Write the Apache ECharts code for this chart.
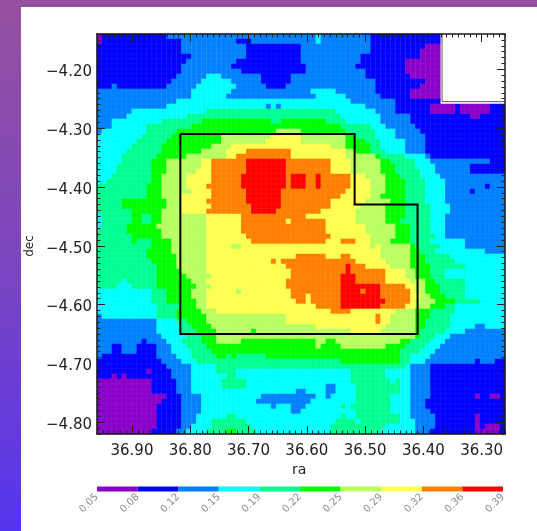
<!DOCTYPE html>
<html><head><meta charset="utf-8">
<style>
html,body{margin:0;padding:0;width:537px;height:531px;overflow:hidden;background:linear-gradient(to bottom,#96509f 0%,#7a45bf 50%,#5535ee 100%);}
#sheet{position:absolute;left:21px;top:7px;width:516px;height:524px;background:#fff;}
#chart{position:absolute;left:0;top:0;width:537px;height:531px;filter:blur(0.5px);}
</style>
<script src="https://cdn.jsdelivr.net/npm/echarts@6/dist/echarts.min.js"></script>
</head><body><div id="sheet"></div><div id="chart"></div>
<script>
const bandColors=['#8a00c8','#0000ff','#0080ff','#00ffff','#00ff90','#00ff00','#b8ff60','#ffff50','#ff8000','#ff0000'];
const barTickLabels=['0.05','0.08','0.12','0.15','0.19','0.22','0.25','0.29','0.32','0.36','0.39'];
const raTicks=[36.9,36.8,36.7,36.6,36.5,36.4,36.3];
const decTicks=[-4.2,-4.3,-4.4,-4.5,-4.6,-4.7,-4.8];
const boxRa=[36.817,36.518,36.518,36.41,36.41,36.817,36.817];
const boxDec=[-4.31,-4.31,-4.43,-4.43,-4.65,-4.65,-4.31];
const notchRa=[36.368,36.368,36.26];
const notchDec=[-4.14,-4.255,-4.255];
const COLS=82;
// each row: band letter + column at which that band ends ('.' = no data)
const rowRuns=[
"a1 b14 c44 d45 c55 b69 .82",
"a1 b17 c28 b31 c44 d45 c55 b69 .82",
"b17 c30 b41 c55 b66 a69 .82",
"b17 c30 b41 c55 b65 a69 .82",
"b19 c30 b41 c53 b65 a69 .82",
"b18 c28 b41 c53 b62 a69 .82",
"b17 c27 b42 c52 b62 a69 .82",
"b17 c29 b42 c54 b62 a69 .82",
"b16 c22 d25 c33 b39 c54 b63 a69 .82",
"b15 c21 d27 c33 b39 c56 b66 a69 .82",
"b3 c4 b14 c20 d28 c34 b38 c56 b65 a69 .82",
"c19 d27 c43 d48 c56 b63 a69 .82",
"c19 d26 c44 d50 c57 b63 a69 .82",
"c16 d51 c60 b69 .82",
"c14 d34 c35 d36 c37 d54 c60 b67 a72 b73 a79 b82",
"c7 d22 e48 d56 c60 b67 a72 b73 a79 b82",
"c6 d18 e49 d57 c63 b75 a77 b82",
"c3 d13 e21 f35 e37 f46 e50 d57 c63 b82",
"c3 d10 e19 f49 e55 d58 c64 b82",
"c1 d10 e16 f36 g41 f50 e56 d60 c65 b82",
"d9 e15 f25 g35 h41 g50 f52 e56 d60 c66 b82",
"d8 e14 f25 g34 h41 g50 f54 e57 d62 c66 b82",
"d7 e13 f23 g27 h47 g50 f55 e57 d62 c66 b82",
"d6 e13 f21 g26 h30 i39 h50 g52 f55 e58 d62 c66 b82",
"d5 e12 f18 g26 h28 i39 h50 g56 f57 e62 d66 c67 b82",
"d5 e11 f14 g21 h23 i30 j38 i47 h51 g57 f59 e64 d67 c79 b82",
"d4 e11 f14 g21 h23 i30 j38 i47 h51 g57 f60 e64 d68 c75 b82",
"d4 e11 f14 g20 h23 i30 j38 i47 h51 g57 f60 e65 d68 c75 b82",
"d3 e11 f13 g18 h23 i29 j38 i39 j42 i44 j45 i51 h54 g58 f61 e65 d69 c82",
"d2 e11 f13 g18 h23 i29 j38 i39 j42 i44 j45 i51 h55 g58 f62 e66 d70 c82",
"e10 f13 g18 h22 i29 j38 i39 j42 i44 j45 i51 h55 g58 f62 e66 d70 c78 b79 c82",
"e10 f13 g19 h23 i30 j37 i50 h55 g58 f62 e66 d70 c75 b76 c82",
"e10 f13 g17 h23 i30 j37 i49 h55 g57 f62 e66 d70 c82",
"e5 f14 g17 h22 i30 j37 i47 h54 g59 f62 e66 d70 c82",
"e5 f14 g17 h23 i31 j37 i47 h53 g58 f62 e67 d71 c82",
"e7 f13 g17 h22 i31 j36 i45 h52 g58 f62 e67 d71 c82",
"d1 e7 f9 e11 f13 g22 h29 i42 h52 g58 f62 e67 d70 c82",
"d1 e7 f9 e11 f13 g22 h29 i38 h39 i46 h52 g58 f61 e67 d70 c82",
"d1 e6 f12 g22 h29 i46 h54 g60 f63 e67 d70 c82",
"e6 f13 g22 h29 i46 h54 g60 f63 e67 d70 c82",
"e7 f13 g22 h30 i47 h55 g60 f63 e68 d70 c82",
"e7 f8 e11 f15 g22 h31 i46 h49 i52 h55 g59 f63 e67 d74 c82",
"e11 f15 g22 h27 g29 h55 g56 h57 g63 f64 e69 d74 c77 c82",
"e10 f15 g22 h57 g63 f65 e68 d78 c82",
"e10 f16 g22 h40 i46 h49 i51 h57 g63 f66 e71 d82",
"e11 f16 g22 h35 i36 h37 i52 h58 g63 f66 e72 d82",
"e12 f16 g22 h38 i50 j51 i54 h59 g63 f67 e74 d82",
"e12 f17 g22 h39 i50 j51 i58 h62 g64 f67 e70 d82",
"e12 f18 g23 h39 i49 j52 i58 h62 g64 f67 e70 d82",
"e5 d6 e12 f19 g22 h38 i49 j52 i58 h63 g66 f68 e74 d82",
"e4 d7 e12 f20 g23 h38 i49 j57 i62 h64 g66 f69 e74 d82",
"d11 e14 f19 g22 h28 g29 h39 i49 j53 i54 j57 i63 h64 g66 f69 e74 d82",
"d11 e14 f19 g22 h39 i42 h43 i49 j57 i63 h65 g67 f70 e74 d82",
"d11 e14 f20 g22 h40 i42 h43 i49 j58 i63 h64 g68 f72 e77 d82",
"d12 e17 f20 g22 h44 i49 j57 i62 h64 g67 f70 e72 d82",
"d12 e16 f21 g24 h47 i51 h60 g64 f67 e72 d82",
"c1 d12 e16 f22 g38 h56 i57 h59 g64 f67 e71 d82",
"c12 d16 e18 f22 g38 h56 i57 h59 g64 f66 e71 d82",
"c12 d17 e19 f23 g44 h58 g64 f66 e71 d76 c78 d82",
"c12 d17 e20 f24 g31 f32 g51 h57 g64 f65 e70 d74 c82",
"c13 d18 e21 f24 g64 f65 e68 d71 c82",
"c9 b10 c14 d17 e21 f24 g29 f44 g46 f48 g61 f63 e67 d70 c82",
"c3 b5 c8 b12 c15 d18 e22 f44 g45 f49 g58 f62 e66 d69 c82",
"c3 b5 c8 b12 c15 d19 e23 f61 e65 d68 c82",
"c1 b12 c16 d19 e24 f26 e27 f28 e34 f61 e63 d67 c82",
"b13 c17 d20 e49 f61 e63 d66 c76 b77 c80 b82",
"b14 c19 d24 e47 e62 d63 c67 b82",
"b10 a11 b15 c19 d24 e28 d51 e58 d63 c67 b82",
"b3 a4 b5 a6 b15 c19 d26 e28 d51 e58 d63 c67 b82",
"a11 b16 c19 d25 e30 d51 e59 d60 e61 d63 c67 b82",
"a11 b16 c19 d25 e30 d46 c48 d52 e61 d63 c67 b82",
"a11 b16 c19 d40 c42 d46 c48 d52 e61 d63 c67 b82",
"a14 b17 c21 d33 c44 d46 c47 d52 e59 d63 c67 b76 a77 b79 a81 b82",
"a13 b17 c21 d32 c43 d52 e59 d63 c66 b82",
"a12 b17 c21 d35 c36 d39 c42 d49 e50 d51 e59 d63 c66 b82",
"a12 b17 c21 d39 c41 d52 e59 d63 c67 b82",
"a12 b17 c20 d26 e28 d49 e50 d52 e61 d63 c68 b76 a77 b82",
"a12 b17 c20 d23 e30 d48 e52 d53 e61 d64 c68 b76 a77 b82",
"a12 b17 c19 d23 e31 d47 e58 d64 c68 b76 a77 b78 a81 b82",
"a11 b16 c18 d22 e26 f28 e32 d47 e57 d64 c67 b76 a81 b82"
];
const edges=barTickLabels.map(Number);
const cells=[];
rowRuns.forEach((run,r)=>{
  let c=0;
  run.split(' ').forEach(tok=>{
    const end=+tok.slice(1), k=tok.charCodeAt(0)-97;
    for(;c<end;c++){ if(tok[0]!=='.') cells.push([c,r,(edges[k]+edges[k+1])/2]); }
  });
});
const colIdx=Array.from({length:COLS},(_,i)=>i);
const rowIdx=rowRuns.map((_,i)=>i);
const RA0=36.26,RA1=36.96,DEC0=-4.82,DEC1=-4.14,TXT='#222';
const font='"DejaVu Sans",sans-serif';
function major(dim,pos,withLabels){
  const vals=dim==='x'?raTicks:decTicks;
  const yAlign=dim==='x'?{}:{verticalAlign:'top',lineHeight:6};
  return {type:'value',gridIndex:0,position:pos,z:6,
    inverse:dim==='x',min:dim==='x'?RA0:DEC0,max:dim==='x'?RA1:DEC1,
    axisLine:{show:true,onZero:false,lineStyle:{color:'#1a1a1a',width:1.5}},
    splitLine:{show:false},minorSplitLine:{show:false},
    axisTick:{show:true,inside:true,length:8,customValues:vals,lineStyle:{color:'#222',width:1}},
    axisLabel:{show:withLabels,customValues:vals,color:TXT,fontFamily:font,fontSize:15,margin:dim==='x'?10:5,
      ...yAlign,hideOverlap:false,formatter:v=>v.toFixed(2).replace('-','\u2212')}};
}
function minor(dim,pos){
  return {type:'value',gridIndex:0,position:pos,z:6,
    inverse:dim==='x',min:dim==='x'?RA0:DEC0,max:dim==='x'?RA1:DEC1,interval:0.01,
    axisLine:{show:false,onZero:false},splitLine:{show:false},axisLabel:{show:false},
    axisTick:{show:true,inside:true,length:3.5,lineStyle:{color:'#222',width:1}}};
}
const pair=(xs,ys)=>xs.map((x,i)=>[x,ys[i]]);
const option={
  animation:false,backgroundColor:'transparent',
  grid:[{left:97,top:34,width:408,height:400,containLabel:false},
        {left:97,top:486.5,width:406,height:5,containLabel:false}],
  visualMap:{show:false,type:'piecewise',seriesIndex:0,
    pieces:bandColors.map((color,i)=>({gte:edges[i],lt:edges[i+1],color}))},
  xAxis:[
    major('x','bottom',true),
    minor('x','bottom'),
    major('x','top',false),
    minor('x','top'),
    {type:'category',gridIndex:0,data:colIdx,show:false},
    {type:'value',gridIndex:1,min:0,max:10,interval:1,position:'bottom',
      axisLine:{show:false,onZero:false},axisTick:{show:false},splitLine:{show:false},
      axisLabel:{rotate:45,margin:4,color:'#8a8a8a',fontFamily:font,fontSize:10,hideOverlap:false,
        showMinLabel:true,showMaxLabel:true,formatter:v=>barTickLabels[v]}}
  ],
  yAxis:[
    major('y','left',true),
    minor('y','left'),
    major('y','right',false),
    minor('y','right'),
    {type:'category',gridIndex:0,data:rowIdx,inverse:true,show:false},
    {type:'category',gridIndex:1,data:['bar'],show:false}
  ],
  series:[
    {type:'heatmap',xAxisIndex:4,yAxisIndex:4,data:cells,progressive:0,z:1,
      itemStyle:{borderWidth:0.5,borderColor:'rgba(255,255,255,0.1)'}},
    {type:'line',xAxisIndex:0,yAxisIndex:0,data:pair(notchRa,notchDec),symbol:'none',z:4,
      lineStyle:{color:'#555',width:1}},
    {type:'line',xAxisIndex:0,yAxisIndex:0,data:pair(boxRa,boxDec),symbol:'none',z:5,
      lineStyle:{color:'#000',width:2,join:'miter'}},
    ...bandColors.map(color=>({type:'bar',xAxisIndex:5,yAxisIndex:5,stack:'bar',barWidth:'100%',
      data:[1],itemStyle:{color},silent:true}))
  ],
  graphic:[
    {type:'text',left:292,top:463,style:{text:'ra',fill:TXT,font:'14px "DejaVu Sans",sans-serif'}},
    {type:'text',x:30,y:246,rotation:Math.PI/2,style:{text:'dec',fill:TXT,align:'center',verticalAlign:'middle',font:'12px "DejaVu Sans",sans-serif'}}
  ]
};
const chart=echarts.init(document.getElementById('chart'),null,{renderer:'canvas'});
chart.setOption(option);
</script></body></html>
